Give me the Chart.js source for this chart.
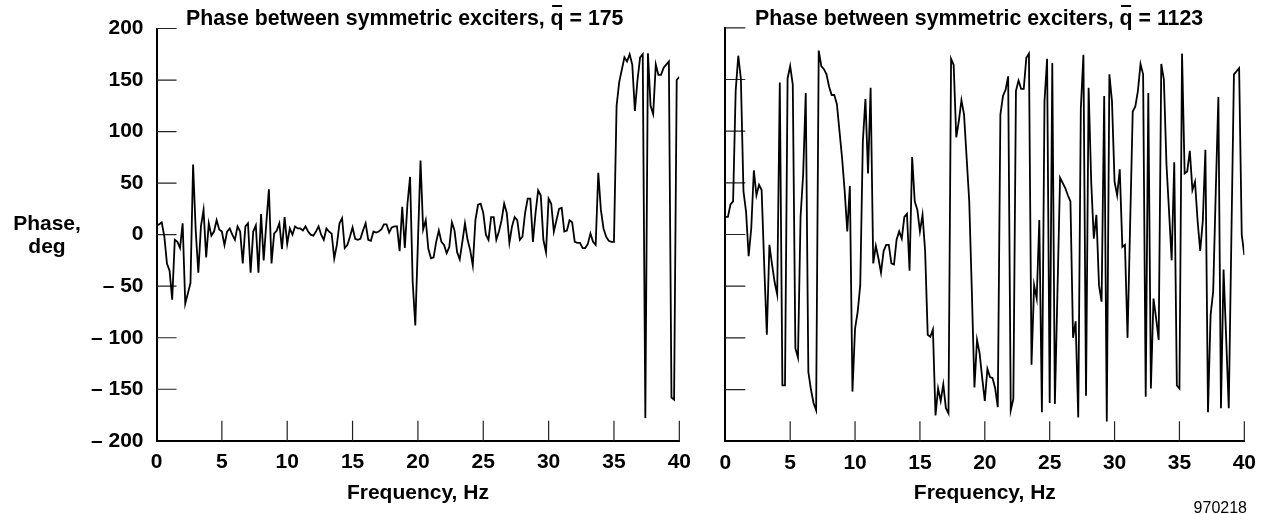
<!DOCTYPE html>
<html>
<head>
<meta charset="utf-8">
<script src="https://cdn.jsdelivr.net/npm/chart.js@4.4.1/dist/chart.umd.min.js"></script>
<style>
html,body{margin:0;padding:0;background:#fff;}
#wrap{position:relative;width:1265px;height:514px;overflow:hidden;background:#fff;}
canvas{position:absolute;top:0;}
#c1{left:0;}
#c2{left:700px;}
</style>
</head>
<body>
<div id="wrap">
<canvas id="c1" width="700" height="514"></canvas>
<canvas id="c2" width="565" height="514"></canvas>
</div>
<script>
// ---- data ----
const frequencyHz = Array.from({length: 201}, (_, i) => Math.round(i * 2) / 10); // sample grid, 0.2 Hz

const phaseQ175 = [
  9,10,12,-2,-28,-35,-63,-5,-7,-13,
  11,-67,-57,-47,68,4,-37,8,24,-22,
  11,-1,3,14,5,3,-10,3,6,0,
  -5,8,3,-28,8,11,-37,3,9,-37,
  20,-25,11,44,-28,1,4,11,-14,17,
  -9,6,0,8,6,6,4,8,3,0,
  -1,3,8,0,-5,6,3,1,-23,-10,
  11,16,-13,-10,-2,7,-4,-5,-4,4,
  11,-5,-6,3,2,3,5,10,10,2,
  7,8,8,-16,27,-13,30,56,-46,-88,
  -8,72,5,14,-14,-23,-22,-7,4,-7,
  -10,-18,-12,12,4,-17,-24,-7,11,-5,
  -15,-30,14,29,30,21,0,-5,17,17,
  -5,3,14,30,21,-8,8,17,14,-5,
  -2,21,35,35,-7,21,43,38,-5,-17,
  35,30,3,14,25,26,3,4,14,12,
  -7,-8,-8,-13,-13,-9,1,-7,-10,60,
  24,6,-2,-6,-7,-7,125,148,160,172,
  168,175,165,120,150,172,175,-178,176,125,
  117,165,155,155,162,165,168,-158,-160,150,
  153
];

const phaseQ1123 = [
  17,17,29,32,139,173,151,42,22,-21,
  6,62,38,48,43,-30,-97,-10,-29,-46,
  -58,147,-146,-146,151,163,145,-110,-119,17,
  58,137,-133,-150,-163,-170,178,163,160,155,
  143,135,135,126,100,74,42,3,47,-152,
  -91,-75,-49,90,131,59,142,-28,-11,-23,
  -37,-16,-10,-10,-28,-29,-5,3,-4,17,
  20,-35,75,32,24,3,19,-16,-97,-99,
  -92,-175,-149,-161,-145,-168,-173,170,164,94,
  110,130,116,74,32,-55,-148,-102,-115,-139,
  -161,-130,-138,-139,-149,-167,116,134,140,153,
  -170,-159,139,149,141,141,171,175,-126,-49,
  -62,14,-172,129,170,-163,166,-164,-55,55,
  50,45,38,32,-100,-84,-177,122,174,-156,
  142,51,-4,19,-49,-65,134,-181,155,129,
  51,38,63,-12,-10,-100,10,119,124,139,
  165,155,-157,137,-149,-62,-81,-102,165,150,
  68,22,-25,70,-146,-149,175,59,61,81,
  43,51,13,-16,13,82,-172,-78,-55,42,
  133,-168,-34,-100,-168,-5,155,158,161,0,
  -20
];

const yTickValues = [200, 150, 100, 50, 0, -50, -100, -150, -200];
const xTickValues = [0, 5, 10, 15, 20, 25, 30, 35, 40];
const titlePrefix = 'Phase between symmetric exciters, ';
const qBarValues = ['175', '1123'];
const yAxisLabel = ['Phase,', 'deg'];
const xAxisLabel = 'Frequency, Hz';
const figureCode = '970218';

// ---- drawing ----
const FONT = '"Liberation Sans", Arial, Helvetica, sans-serif';

function fmtY(v) { return v < 0 ? '\u2013 ' + Math.abs(v) : String(v); }

function drawTitle(ctx, x, baseline, qValue) {
  ctx.font = 'bold 21.3px ' + FONT;
  ctx.fillStyle = '#000';
  ctx.textAlign = 'left';
  ctx.textBaseline = 'alphabetic';
  ctx.fillText(titlePrefix, x, baseline);
  const w1 = ctx.measureText(titlePrefix).width;
  ctx.fillText('q', x + w1, baseline);
  const wq = ctx.measureText('q').width;
  ctx.fillText(' = ' + qValue, x + w1 + wq, baseline);
  ctx.fillRect(x + w1 + 1.5, baseline - 20, wq - 3, 2);
}

const innerTicks = {
  id: 'innerTicks',
  beforeDatasetsDraw(chart) {
    const {ctx, chartArea, scales} = chart;
    ctx.save();
    ctx.strokeStyle = '#222';
    ctx.lineWidth = 1.2;
    ctx.beginPath();
    scales.y.ticks.forEach(t => {
      if (t.value === -200) return;
      const py = scales.y.getPixelForValue(t.value);
      ctx.moveTo(chartArea.left, py);
      ctx.lineTo(chartArea.left + 20, py);
    });
    scales.x.ticks.forEach(t => {
      if (t.value === 0) return;
      const px = scales.x.getPixelForValue(t.value);
      ctx.moveTo(px, chartArea.bottom);
      ctx.lineTo(px, chartArea.bottom - 20);
    });
    ctx.stroke();
    ctx.restore();
  }
};

function makeChart(id, values, o) {
  const annot = {
    id: 'annot',
    afterDraw(chart) {
      const ctx = chart.ctx;
      ctx.save();
      o.draw(ctx);
      ctx.restore();
    }
  };
  return new Chart(document.getElementById(id), {
    type: 'line',
    data: {
      datasets: [{
        data: frequencyHz.map((f, i) => ({x: f, y: values[i]})),
        borderColor: '#000',
        borderWidth: 1.8,
        pointRadius: 0,
        tension: 0,
        fill: false
      }]
    },
    options: {
      responsive: false,
      animation: false,
      devicePixelRatio: 1,
      events: [],
      layout: {padding: {left: 0, right: o.padRight, top: o.top, bottom: 0}},
      plugins: {legend: {display: false}, title: {display: false}, tooltip: {enabled: false}},
      scales: {
        x: {
          type: 'linear',
          min: 0, max: 40,
          afterBuildTicks: a => { a.ticks = xTickValues.map(v => ({value: v})); },
          afterFit: a => { a.height = 514 - o.bottom; },
          grid: {display: false, drawTicks: false},
          border: {display: true, color: '#000', width: 2},
          ticks: {color: '#000', padding: 9, maxRotation: 0, autoSkip: false,
                  font: {family: FONT, size: 21, weight: 'bold'}},
          title: {display: true, text: xAxisLabel, color: '#000',
                  font: {family: FONT, size: 21, weight: 'bold'},
                  padding: {top: 0, bottom: 8}}
        },
        y: {
          min: -200, max: 200,
          afterBuildTicks: a => { a.ticks = yTickValues.map(v => ({value: v})); },
          afterFit: a => { a.width = o.axisWidth; },
          grid: {display: false, drawTicks: false},
          border: {display: true, color: '#000', width: 2},
          ticks: {display: o.showY, color: '#000', padding: 13, callback: v => fmtY(v),
                  font: {family: FONT, size: 21, weight: 'bold'}}
        }
      }
    },
    plugins: [innerTicks, annot]
  });
}

makeChart('c1', phaseQ175, {
  axisWidth: 156.5, padRight: 20, top: 28.5, bottom: 440.8, showY: true,
  draw(ctx) {
    drawTitle(ctx, 186, 25, qBarValues[0]);
    ctx.font = 'bold 21px ' + FONT;
    ctx.textAlign = 'center';
    ctx.textBaseline = 'alphabetic';
    ctx.fillStyle = '#000';
    ctx.fillText(yAxisLabel[0], 47, 229.5);
    ctx.fillText(yAxisLabel[1], 47, 253);
  }
});

makeChart('c2', phaseQ1123, {
  axisWidth: 25.3, padRight: 16.5, top: 27.8, bottom: 441.2, showY: false,
  draw(ctx) {
    drawTitle(ctx, 55, 25, qBarValues[1]);
    ctx.font = '16px ' + FONT;
    ctx.textAlign = 'right';
    ctx.textBaseline = 'alphabetic';
    ctx.fillStyle = '#000';
    ctx.fillText(figureCode, 547, 513);
  }
});
</script>
</body>
</html>
